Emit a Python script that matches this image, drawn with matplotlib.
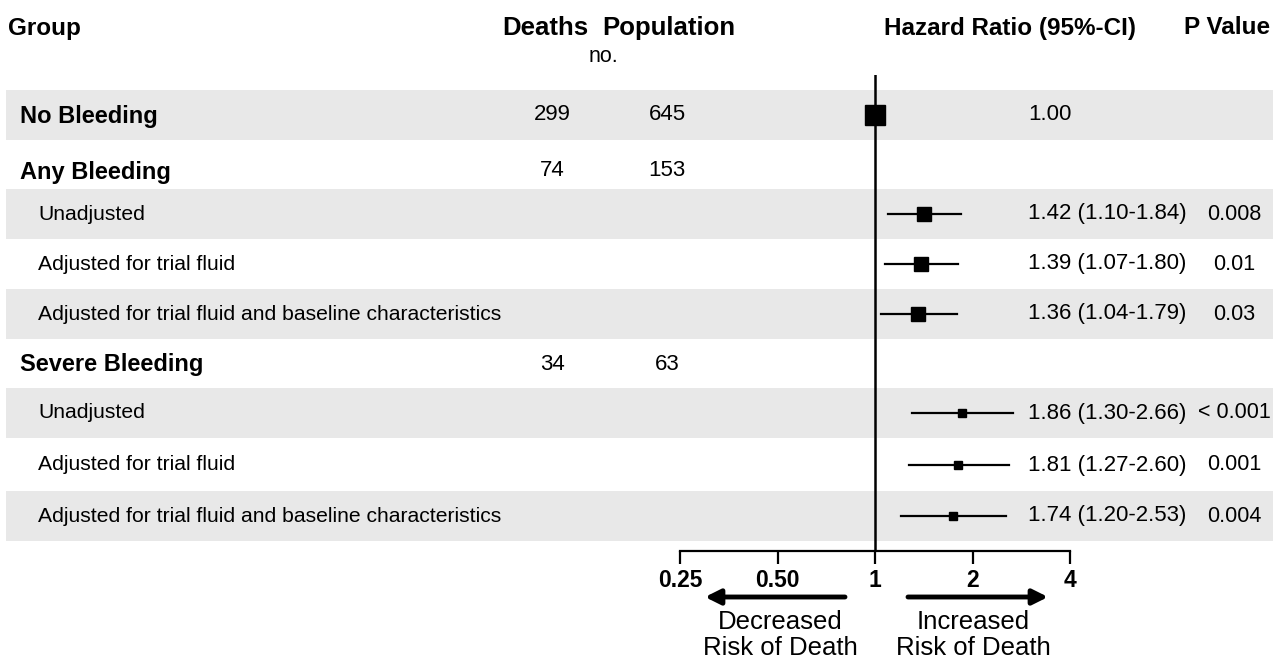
import numpy as np
import matplotlib.pyplot as plt

plt.rcParams['font.family'] = ['Liberation Sans', 'DejaVu Sans']

# ---- data ----
labels = ['No Bleeding', 'Any Bleeding', 'Unadjusted', 'Adjusted for trial fluid',
          'Adjusted for trial fluid and baseline characteristics',
          'Severe Bleeding', 'Unadjusted', 'Adjusted for trial fluid',
          'Adjusted for trial fluid and baseline characteristics']
is_group = [True, True, False, False, False, True, False, False, False]
deaths = ['299', '74', '', '', '', '34', '', '', '']
population = ['645', '153', '', '', '', '63', '', '', '']
hr = [1.00, np.nan, 1.42, 1.39, 1.36, np.nan, 1.86, 1.81, 1.74]
ci_lo = [np.nan, np.nan, 1.10, 1.07, 1.04, np.nan, 1.30, 1.27, 1.20]
ci_hi = [np.nan, np.nan, 1.84, 1.80, 1.79, np.nan, 2.66, 2.60, 2.53]
p_values = ['', '', '0.008', '0.01', '0.03', '', '< 0.001', '0.001', '0.004']
ticks = [0.25, 0.5, 1, 2, 4]
tick_labels = ['0.25', '0.50', '1', '2', '4']

# layout (pixel coordinates, y from the top)
W, H = 1273, 659
row_y = [115, 171, 214, 264, 314, 364, 413, 465, 516]
shaded = [0, 2, 4, 6, 8]
marker_size = [13.7, 0, 9.6, 9.6, 9.6, 0, 6, 6, 6]
band_h = 50
axis_y = 551
top_y = 75

fig = plt.figure(figsize=(W / 100, H / 100), dpi=100)
bg = fig.add_axes([0, 0, 1, 1])
bg.set_xlim(0, W)
bg.set_ylim(H, 0)
bg.axis('off')

for i in shaded:
    bg.axhspan(row_y[i] - band_h / 2, row_y[i] + band_h / 2, xmin=6 / W, xmax=1,
               color='#e8e8e8', lw=0, zorder=0)

hdr = dict(fontsize=17.5, fontweight='bold', va='center')
bg.text(8, 28, 'Group', ha='left', **hdr)
bg.text(588, 28, 'Deaths', ha='right', va='center', fontsize=18.5, fontweight='bold')
bg.text(735, 28, 'Population', ha='right', va='center', fontsize=18.5,
        fontweight='bold')
bg.text(603, 56, 'no.', ha='center', va='center', fontsize=15.5)
bg.text(1136, 28, 'Hazard Ratio (95%-CI)', ha='right', **hdr)
bg.text(1270, 28, 'P Value', ha='right', **hdr)

for i, y in enumerate(row_y):
    if is_group[i]:
        bg.text(20, y + 1, labels[i], ha='left', va='center', fontsize=17,
                fontweight='bold')
    else:
        bg.text(38, y, labels[i], ha='left', va='center', fontsize=15.2)
    bg.text(552, y, deaths[i], ha='center', va='center', fontsize=16)
    bg.text(667, y, population[i], ha='center', va='center', fontsize=16)
    if not np.isnan(hr[i]):
        if np.isnan(ci_lo[i]):
            s = '%.2f' % hr[i]
        else:
            s = '%.2f (%.2f-%.2f)' % (hr[i], ci_lo[i], ci_hi[i])
        bg.text(1028, y, s, ha='left', va='center', fontsize=16)
    bg.text(1234, y, p_values[i], ha='center', va='center', fontsize=15.5)

# direction arrows and captions
arrow = dict(arrowstyle='-|>,head_length=0.9,head_width=0.45', lw=3.5, color='black',
             shrinkA=0, shrinkB=0)
bg.annotate('', xy=(705, 597), xytext=(845, 597), arrowprops=arrow)
bg.annotate('', xy=(1048, 597), xytext=(908, 597), arrowprops=arrow)
bg.text(780, 635, 'Decreased\nRisk of Death', ha='center', va='center', fontsize=18.5,
        linespacing=1.15)
bg.text(973, 635, 'Increased\nRisk of Death', ha='center', va='center', fontsize=18.5,
        linespacing=1.15)

# forest panel
x0, x1 = 680, 1070
ax = fig.add_axes([x0 / W, 1 - axis_y / H, (x1 - x0) / W, (axis_y - top_y) / H])
ax.patch.set_alpha(0)
ax.set_xscale('log', base=2)
ax.set_xlim(0.25, 4)
ax.set_ylim(axis_y, top_y)
for s in ['top', 'left', 'right']:
    ax.spines[s].set_visible(False)
ax.spines['bottom'].set_linewidth(1.6)
ax.set_yticks([])
ax.set_xticks(ticks)
ax.set_xticklabels(tick_labels, fontsize=16.5, fontweight='bold')
ax.xaxis.set_minor_locator(plt.NullLocator())
ax.tick_params(axis='x', direction='out', length=9, width=1.6, pad=4)
ax.axvline(1, color='black', lw=1.8, zorder=2)

for i, y in enumerate(row_y):
    if np.isnan(hr[i]):
        continue
    if not np.isnan(ci_lo[i]):
        ax.plot([ci_lo[i], ci_hi[i]], [y, y], color='black', lw=1.6, zorder=3)
    ax.plot(hr[i], y, marker='s', color='black', markersize=marker_size[i],
            zorder=4, clip_on=False)

fig.savefig('out.png', dpi=100)
